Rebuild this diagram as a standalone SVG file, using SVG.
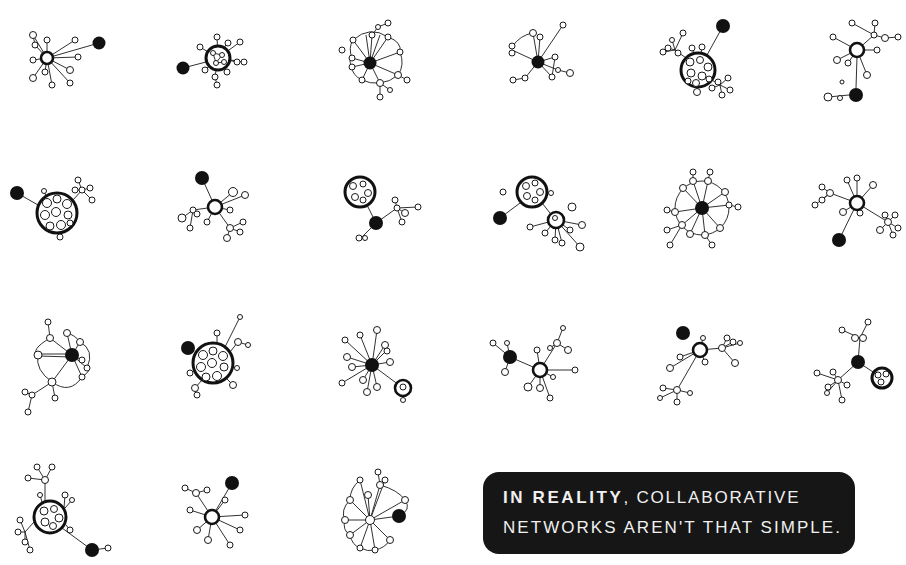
<svg xmlns="http://www.w3.org/2000/svg" width="906" height="565" viewBox="0 0 906 565">
<style>
.e{fill:none;stroke:#1a1a1a;stroke-width:0.9}
.s{fill:#fff;stroke:#1a1a1a;stroke-width:1}
.b{fill:#111}
.h{fill:#fff;stroke:#111;stroke-width:2.6}
.c{fill:#fff;stroke:#111;stroke-width:3}
.t{font-family:"Liberation Sans",Arial,sans-serif;font-size:17px;fill:#f0f0f0}
</style>
<rect width="906" height="565" fill="#fff"/>

<g id="g1">
<path class="e" d="M47 58L99 43M47 58L33 35M47 58L35 45M47 58L47 40M47 58L75 40M47 58L78 57M47 58L70 70M47 58L70 83M47 58L52 85M47 58L33 78M47 58L33 60M47 58L45 72M33 35L35 45"/>
<g class="s"><circle cx="33" cy="35" r="3.5"/><circle cx="35" cy="45" r="3"/><circle cx="47" cy="40" r="3"/><circle cx="75" cy="40" r="3"/><circle cx="78" cy="57" r="3"/><circle cx="70" cy="70" r="3.5"/><circle cx="70" cy="83" r="3"/><circle cx="52" cy="85" r="3"/><circle cx="33" cy="78" r="3.5"/><circle cx="33" cy="60" r="3"/><circle cx="45" cy="72" r="3"/></g>
<circle class="h" cx="47" cy="58" r="6"/><circle class="b" cx="99" cy="43" r="6.5"/>
</g>

<g id="g2">
<path class="e" d="M183 68L206 62M218 58L217 37M218 58L200 47M218 58L240 42M218 58L237 62M218 58L243 62M218 58L227 72M218 58L215 77M215 77L217 85M218 58L205 70M218 58L227 43"/>
<circle class="c" cx="218" cy="58" r="12"/>
<path class="e" d="M213 53L222 55L216 63L224 62M213 53L216 63"/>
<g class="s"><circle cx="213" cy="53" r="2.5"/><circle cx="222" cy="55" r="2.5"/><circle cx="216" cy="63" r="2.5"/><circle cx="224" cy="62" r="2.5"/><circle cx="217" cy="37" r="3"/><circle cx="200" cy="47" r="3"/><circle cx="240" cy="42" r="3"/><circle cx="237" cy="62" r="3"/><circle cx="244" cy="62" r="3"/><circle cx="227" cy="72" r="3"/><circle cx="215" cy="77" r="3"/><circle cx="217" cy="85" r="3"/><circle cx="205" cy="70" r="3"/><circle cx="228" cy="43" r="3"/></g>
<circle class="b" cx="183" cy="68" r="6.5"/>
</g>

<g id="g3">
<path class="e" d="M370 63L353 40M370 63L366 35M370 63L372 35M370 63L380 35M370 63L388 37M370 63L400 52M370 63L398 75M370 63L380 83M370 63L362 80M370 63L352 67M370 63L352 58M353 40Q370 25 388 37Q402 42 400 52Q405 65 398 75Q390 82 380 83Q370 84 362 80Q352 75 352 67Q348 60 352 58Q348 48 353 40M372 35L378 27L388 23M398 75L407 80M380 83L390 90M380 83L380 97"/>
<g class="s"><circle cx="353" cy="40" r="3"/><circle cx="372" cy="35" r="3"/><circle cx="388" cy="37" r="3"/><circle cx="400" cy="52" r="3"/><circle cx="398" cy="75" r="3.5"/><circle cx="380" cy="83" r="3.5"/><circle cx="362" cy="80" r="3"/><circle cx="352" cy="67" r="3"/><circle cx="352" cy="58" r="3"/><circle cx="378" cy="27" r="2.5"/><circle cx="388" cy="23" r="3"/><circle cx="342" cy="50" r="3"/><circle cx="407" cy="80" r="3"/><circle cx="390" cy="90" r="2.5"/><circle cx="380" cy="97" r="3"/></g>
<circle class="b" cx="370" cy="63" r="6.5"/>
</g>

<g id="g4">
<path class="e" d="M538 62L533 33M538 62L540 37M538 62L563 25M538 62L555 57M538 62L552 77M538 62L525 78M538 62L512 50M538 62L558 70M512 47Q520 35 533 33M525 78L513 80M558 70L570 73M555 57L552 77"/>
<g class="s"><circle cx="533" cy="33" r="3.5"/><circle cx="540" cy="37" r="3"/><circle cx="512" cy="46" r="3"/><circle cx="512" cy="53" r="3"/><circle cx="563" cy="25" r="3"/><circle cx="555" cy="57" r="3"/><circle cx="552" cy="77" r="3"/><circle cx="570" cy="73" r="3.5"/><circle cx="525" cy="78" r="3"/><circle cx="513" cy="80" r="3"/><circle cx="558" cy="70" r="2.5"/></g>
<circle class="b" cx="538" cy="62" r="6.5"/>
</g>

<g id="g5">
<path class="e" d="M723 26L707 55M686 58L675 50M675 50L668 48M675 50L672 40M675 50L683 33M675 50L663 52M675 50L678 53M712 80L720 85M720 85L718 82M720 85L728 78M720 85L730 90M720 85L722 95M720 85L712 88M692 48L694 54M702 47L701 53M697 91L697 87"/>
<circle class="c" cx="698" cy="70" r="17"/>
<g class="s"><circle cx="690" cy="62" r="4"/><circle cx="700" cy="60" r="3.5"/><circle cx="708" cy="67" r="4"/><circle cx="691" cy="73" r="4"/><circle cx="702" cy="76" r="4"/><circle cx="696" cy="83" r="3.5"/><circle cx="709" cy="79" r="3"/><circle cx="688" cy="81" r="3"/><circle cx="668" cy="48" r="3"/><circle cx="672" cy="40" r="2.5"/><circle cx="683" cy="33" r="3"/><circle cx="663" cy="52" r="3"/><circle cx="678" cy="53" r="3"/><circle cx="718" cy="82" r="3"/><circle cx="728" cy="78" r="3"/><circle cx="730" cy="90" r="3"/><circle cx="722" cy="95" r="3"/><circle cx="712" cy="88" r="3"/><circle cx="692" cy="48" r="3"/><circle cx="702" cy="47" r="3"/><circle cx="697" cy="92" r="3.5"/></g>
<circle class="b" cx="723" cy="26" r="7"/>
</g>

<g id="g6">
<path class="e" d="M857 57L856 88M857 50L874 35M857 50L833 37M857 50L837 60M857 50L848 63M857 50L877 50M857 50L867 75M874 35L852 23M874 35L875 23M874 35L885 38M885 38L898 37M828 97L849 95"/>
<g class="s"><circle cx="852" cy="23" r="3"/><circle cx="875" cy="23" r="3"/><circle cx="874" cy="35" r="3"/><circle cx="885" cy="38" r="3.5"/><circle cx="898" cy="37" r="3"/><circle cx="833" cy="37" r="3"/><circle cx="837" cy="60" r="3.5"/><circle cx="848" cy="63" r="3"/><circle cx="877" cy="50" r="3"/><circle cx="867" cy="75" r="3.5"/><circle cx="842" cy="82" r="2"/><circle cx="828" cy="97" r="4"/><circle cx="840" cy="98" r="2.5"/></g>
<circle class="h" cx="857" cy="50" r="7"/><circle class="b" cx="856" cy="95" r="7"/>
</g>

<g id="g7">
<path class="e" d="M17 193L38 205M73 200L82 190M82 190L78 180M82 190L90 188M82 190L92 200M82 190L75 190M44 191L46 196M60 237L59 233"/>
<circle class="c" cx="57" cy="213" r="20"/>
<g class="s"><circle cx="47" cy="203" r="4.5"/><circle cx="57" cy="199" r="4"/><circle cx="67" cy="204" r="4.5"/><circle cx="45" cy="215" r="4.5"/><circle cx="56" cy="212" r="4.5"/><circle cx="68" cy="215" r="4"/><circle cx="50" cy="226" r="4"/><circle cx="61" cy="225" r="4.5"/><circle cx="70" cy="223" r="3"/><circle cx="78" cy="180" r="3"/><circle cx="82" cy="190" r="3"/><circle cx="90" cy="188" r="3"/><circle cx="92" cy="200" r="3"/><circle cx="75" cy="190" r="3"/><circle cx="44" cy="191" r="2.5"/><circle cx="60" cy="237" r="3"/></g>
<circle class="b" cx="17" cy="193" r="7"/>
</g>

<g id="g8">
<path class="e" d="M215 207L202 178M215 207L233 192M215 207L245 195M215 207L193 210M215 207L207 222M215 207L230 228M215 207L230 210M193 210L182 218M193 210L190 228M230 228L227 238M230 228L240 232M230 228L243 222"/>
<g class="s"><circle cx="233" cy="192" r="4.5"/><circle cx="245" cy="195" r="3.5"/><circle cx="230" cy="210" r="3"/><circle cx="193" cy="210" r="3"/><circle cx="182" cy="218" r="4"/><circle cx="190" cy="228" r="3"/><circle cx="207" cy="222" r="3"/><circle cx="230" cy="228" r="3.5"/><circle cx="227" cy="238" r="3.5"/><circle cx="240" cy="232" r="3"/><circle cx="243" cy="222" r="3"/><circle cx="197" cy="214" r="3"/></g>
<circle class="h" cx="215" cy="207" r="7"/><circle class="b" cx="202" cy="178" r="7"/>
</g>

<g id="g9">
<path class="e" d="M367 205L376 223M376 223L397 208M397 208L395 200M397 208L405 213M397 208L402 222M397 208L418 207M376 223L362 237"/>
<circle class="c" cx="360" cy="192" r="15"/>
<g class="s"><circle cx="353" cy="186" r="3.5"/><circle cx="363" cy="184" r="3"/><circle cx="368" cy="193" r="3.5"/><circle cx="355" cy="197" r="3.5"/><circle cx="363" cy="200" r="3"/><circle cx="395" cy="200" r="3"/><circle cx="397" cy="208" r="3"/><circle cx="405" cy="213" r="3.5"/><circle cx="418" cy="207" r="3"/><circle cx="402" cy="222" r="3"/><circle cx="359" cy="238" r="3"/><circle cx="365" cy="238" r="2.5"/></g>
<circle class="b" cx="376" cy="223" r="7"/>
</g>

<g id="g10">
<path class="e" d="M500 218L520 203M542 203L550 213M556 220L530 227M556 220L545 233M556 220L555 240M556 220L562 243M556 220L570 230M556 220L582 225M556 220L580 247"/>
<circle class="c" cx="532" cy="192" r="15"/>
<circle class="h" cx="556" cy="220" r="8"/>
<g class="s"><circle cx="526" cy="186" r="3.5"/><circle cx="535" cy="183" r="3"/><circle cx="540" cy="192" r="3.5"/><circle cx="527" cy="196" r="3.5"/><circle cx="535" cy="200" r="3"/><circle cx="555" cy="218" r="2.5"/><circle cx="503" cy="192" r="3"/><circle cx="551" cy="193" r="2.5"/><circle cx="572" cy="207" r="4"/><circle cx="530" cy="227" r="3"/><circle cx="545" cy="233" r="3"/><circle cx="555" cy="240" r="3"/><circle cx="562" cy="243" r="3"/><circle cx="570" cy="230" r="3"/><circle cx="582" cy="225" r="3.5"/><circle cx="580" cy="247" r="4"/></g>
<circle class="b" cx="500" cy="218" r="7"/>
</g>

<g id="g11">
<circle class="e" cx="702" cy="208" r="27"/>
<path class="e" d="M702 208L693 181M702 208L708 181M702 208L683 188M702 208L725 192M702 208L729 205M702 208L675 212M702 208L682 225M702 208L690 234M702 208L705 235M702 208L720 228M693 181L693 172M708 181L710 172M675 212L667 210M682 225L667 230M682 225L670 245M705 235L712 245M729 205L738 207"/>
<g class="s"><circle cx="693" cy="181" r="3.5"/><circle cx="708" cy="181" r="3.5"/><circle cx="693" cy="172" r="3"/><circle cx="710" cy="172" r="3"/><circle cx="683" cy="188" r="3.5"/><circle cx="725" cy="192" r="3.5"/><circle cx="729" cy="205" r="3"/><circle cx="738" cy="207" r="3"/><circle cx="675" cy="212" r="3.5"/><circle cx="667" cy="210" r="3"/><circle cx="682" cy="225" r="3.5"/><circle cx="667" cy="230" r="3"/><circle cx="670" cy="245" r="3"/><circle cx="690" cy="234" r="3.5"/><circle cx="705" cy="235" r="3.5"/><circle cx="712" cy="245" r="3"/><circle cx="720" cy="228" r="3.5"/></g>
<circle class="b" cx="702" cy="208" r="7"/>
</g>

<g id="g12">
<path class="e" d="M857 203L839 240M857 203L847 180M857 203L857 178M857 203L873 185M857 203L830 193M830 193L822 200M830 193L815 205M830 193L822 187M857 203L843 212M857 203L860 213M857 203L888 222M888 222L895 215M888 222L880 230M888 222L893 235M888 222L898 228M888 222L885 215"/>
<g class="s"><circle cx="847" cy="180" r="3"/><circle cx="857" cy="178" r="3"/><circle cx="873" cy="185" r="3.5"/><circle cx="830" cy="193" r="3.5"/><circle cx="822" cy="200" r="3"/><circle cx="815" cy="205" r="3"/><circle cx="822" cy="187" r="3"/><circle cx="843" cy="212" r="3.5"/><circle cx="860" cy="213" r="3"/><circle cx="888" cy="222" r="3.5"/><circle cx="895" cy="215" r="3"/><circle cx="880" cy="230" r="3.5"/><circle cx="893" cy="235" r="3"/><circle cx="898" cy="228" r="3"/><circle cx="885" cy="215" r="3"/></g>
<circle class="h" cx="857" cy="203" r="7"/><circle class="b" cx="839" cy="240" r="7"/>
</g>

<g id="g13">
<path class="e" d="M72 355L50 338M72 355L67 333M72 355L80 342M72 354L38 354M72 357L38 356M72 355L82 360M72 355L87 368M72 355L82 377M72 355L52 382M48 322L50 338M50 338Q30 350 38 355Q35 370 52 382Q70 395 82 377Q92 370 87 368Q95 350 80 342Q75 335 67 333M52 382L32 395L25 392M32 395L28 412M52 382L55 398"/>
<g class="s"><circle cx="48" cy="322" r="3"/><circle cx="50" cy="338" r="3.5"/><circle cx="67" cy="333" r="3.5"/><circle cx="80" cy="342" r="3.5"/><circle cx="38" cy="355" r="4"/><circle cx="82" cy="360" r="3"/><circle cx="87" cy="368" r="3"/><circle cx="82" cy="377" r="3"/><circle cx="52" cy="382" r="4"/><circle cx="32" cy="395" r="3"/><circle cx="25" cy="392" r="3"/><circle cx="28" cy="412" r="3"/><circle cx="55" cy="398" r="3"/></g>
<circle class="b" cx="72" cy="355" r="7"/>
</g>

<g id="g14">
<path class="e" d="M225 347L240 317M217 343L217 333M230 352L238 342L248 345M195 370L190 373M202 380L195 388L197 395M226 378L233 385M232 367L237 368"/>
<circle class="c" cx="213" cy="363" r="20"/>
<g class="s"><circle cx="203" cy="355" r="4.5"/><circle cx="213" cy="351" r="4"/><circle cx="223" cy="356" r="4.5"/><circle cx="201" cy="367" r="4.5"/><circle cx="212" cy="363" r="4.5"/><circle cx="224" cy="367" r="4"/><circle cx="206" cy="377" r="4"/><circle cx="217" cy="376" r="4.5"/><circle cx="240" cy="317" r="2.5"/><circle cx="217" cy="333" r="3"/><circle cx="238" cy="342" r="3.5"/><circle cx="248" cy="345" r="2.5"/><circle cx="190" cy="373" r="3"/><circle cx="195" cy="388" r="3.5"/><circle cx="197" cy="395" r="3"/><circle cx="233" cy="385" r="3.5"/><circle cx="237" cy="368" r="2.5"/></g>
<circle class="b" cx="188" cy="348" r="7"/>
</g>

<g id="g15">
<path class="e" d="M372 365L403 388M372 365L377 330M372 365L360 335M372 365L345 340M372 365L385 345M372 365L387 350M372 365L390 362M372 365L347 357M372 365L352 367M372 365L363 380M372 365L377 387M372 365L367 392M372 365L342 383M403 396L403 400"/>
<circle class="h" cx="403" cy="388" r="8"/>
<g class="s"><circle cx="403" cy="387" r="3"/><circle cx="377" cy="330" r="3.5"/><circle cx="360" cy="335" r="3"/><circle cx="345" cy="340" r="3"/><circle cx="385" cy="345" r="3.5"/><circle cx="387" cy="351" r="3"/><circle cx="390" cy="362" r="3.5"/><circle cx="347" cy="357" r="3.5"/><circle cx="352" cy="367" r="3.5"/><circle cx="363" cy="380" r="3.5"/><circle cx="377" cy="387" r="3.5"/><circle cx="367" cy="392" r="3.5"/><circle cx="342" cy="383" r="3"/><circle cx="403" cy="400" r="2.5"/></g>
<circle class="b" cx="372" cy="365" r="7"/>
</g>

<g id="g16">
<path class="e" d="M510 357L540 370M510 357L493 343M510 357L505 372M510 357L507 343M540 370L537 350M540 370L528 387M540 370L540 388M540 370L550 398M540 370L575 370M540 370L557 343M540 370L553 377M557 343L563 328M557 343L568 350M557 343L550 348"/>
<g class="s"><circle cx="493" cy="343" r="3"/><circle cx="505" cy="372" r="3.5"/><circle cx="507" cy="343" r="2.5"/><circle cx="537" cy="350" r="3"/><circle cx="528" cy="387" r="4"/><circle cx="540" cy="388" r="3.5"/><circle cx="550" cy="398" r="3"/><circle cx="553" cy="377" r="2.5"/><circle cx="575" cy="370" r="3"/><circle cx="557" cy="343" r="3.5"/><circle cx="563" cy="328" r="2.5"/><circle cx="568" cy="350" r="3.5"/><circle cx="550" cy="348" r="2.5"/></g>
<circle class="h" cx="540" cy="370" r="7"/><circle class="b" cx="510" cy="357" r="7"/>
</g>

<g id="g17">
<path class="e" d="M700 350L722 348M722 348L727 338M722 348L733 342M722 348L740 343M722 348L735 363M700 350L703 338M700 350L705 362M700 350L680 357M700 350L670 368M700 350L677 390M677 390L663 388M677 390L660 398M677 390L677 402M677 390L690 393"/>
<g class="s"><circle cx="722" cy="348" r="3.5"/><circle cx="727" cy="338" r="3"/><circle cx="733" cy="342" r="3"/><circle cx="740" cy="343" r="2.5"/><circle cx="735" cy="363" r="3.5"/><circle cx="703" cy="338" r="2.5"/><circle cx="705" cy="362" r="3"/><circle cx="680" cy="357" r="3"/><circle cx="670" cy="368" r="3.5"/><circle cx="677" cy="390" r="3.5"/><circle cx="663" cy="388" r="3"/><circle cx="660" cy="398" r="2.5"/><circle cx="677" cy="402" r="3"/><circle cx="690" cy="393" r="2.5"/></g>
<circle class="h" cx="700" cy="350" r="7"/><circle class="b" cx="683" cy="333" r="7"/>
</g>

<g id="g18">
<path class="e" d="M858 362L882 378M858 362L860 338M860 338L868 322M860 338L842 330M860 338L855 338M860 338L863 338M858 362L838 380M838 380L817 373M838 380L833 372M838 380L847 385M838 380L828 387M838 380L827 393M838 380L842 400"/>
<circle class="c" cx="882" cy="378" r="10"/>
<g class="s"><circle cx="878" cy="375" r="3"/><circle cx="886" cy="374" r="3"/><circle cx="881" cy="382" r="3"/><circle cx="868" cy="322" r="3"/><circle cx="842" cy="330" r="3"/><circle cx="855" cy="338" r="3.5"/><circle cx="863" cy="338" r="3.5"/><circle cx="817" cy="373" r="3"/><circle cx="833" cy="372" r="3"/><circle cx="838" cy="380" r="3.5"/><circle cx="847" cy="385" r="3"/><circle cx="828" cy="387" r="3"/><circle cx="827" cy="393" r="2.5"/><circle cx="842" cy="400" r="3"/></g>
<circle class="b" cx="858" cy="362" r="7"/>
</g>

<g id="g19">
<path class="e" d="M62 528L92 550L108 548M45 480L37 467M45 480L52 467M45 480L28 478M45 480L45 501M40 495L42 502M34 522L25 532M25 532L20 520M25 532L18 532M25 532L25 542M25 532L30 550M64 508L65 495M65 508L72 500M66 525L70 530"/>
<circle class="c" cx="50" cy="517" r="16"/>
<g class="s"><circle cx="44" cy="511" r="4"/><circle cx="54" cy="509" r="3.5"/><circle cx="59" cy="518" r="4"/><circle cx="45" cy="522" r="4"/><circle cx="53" cy="526" r="3.5"/><circle cx="37" cy="467" r="3"/><circle cx="52" cy="467" r="3"/><circle cx="45" cy="480" r="3.5"/><circle cx="28" cy="478" r="3"/><circle cx="40" cy="495" r="2.5"/><circle cx="20" cy="520" r="3"/><circle cx="18" cy="532" r="3"/><circle cx="25" cy="542" r="3"/><circle cx="30" cy="550" r="3"/><circle cx="65" cy="495" r="3"/><circle cx="72" cy="500" r="2.5"/><circle cx="70" cy="530" r="3"/><circle cx="108" cy="548" r="3"/></g>
<circle class="b" cx="92" cy="550" r="7"/>
</g>

<g id="g20">
<path class="e" d="M212 517L232 483M212 517L196 493M196 493L185 488M196 493L207 490M212 517L190 510M212 517L197 530M212 517L208 540M212 517L230 545M212 517L240 530M212 517L245 515M212 517L225 500"/>
<g class="s"><circle cx="185" cy="488" r="3"/><circle cx="196" cy="493" r="3.5"/><circle cx="207" cy="490" r="3"/><circle cx="190" cy="510" r="3"/><circle cx="197" cy="530" r="3.5"/><circle cx="208" cy="540" r="3.5"/><circle cx="230" cy="545" r="3"/><circle cx="240" cy="530" r="3"/><circle cx="245" cy="515" r="3"/><circle cx="225" cy="500" r="3"/></g>
<circle class="h" cx="212" cy="517" r="7"/><circle class="b" cx="232" cy="483" r="7"/>
</g>

<g id="g21">
<path class="e" d="M370 520L399 516M370 520L380 485M370 520L385 480M370 520L360 480M370 520L368 495M370 520L350 500M370 520L345 520M370 520L350 535M370 520L360 548M370 520L375 550M370 520L390 540M370 520L405 500M380 485L378 472M380 485Q398 490 405 500Q412 510 399 516M350 500Q340 510 345 520Q342 530 350 535Q352 545 360 548Q368 552 375 550Q385 548 390 540M360 480Q350 488 350 500"/>
<g class="s"><circle cx="378" cy="472" r="3"/><circle cx="380" cy="485" r="3.5"/><circle cx="385" cy="480" r="3"/><circle cx="360" cy="480" r="3"/><circle cx="368" cy="495" r="3.5"/><circle cx="350" cy="500" r="3.5"/><circle cx="345" cy="520" r="3.5"/><circle cx="350" cy="535" r="3.5"/><circle cx="360" cy="548" r="3"/><circle cx="375" cy="550" r="3"/><circle cx="390" cy="540" r="3.5"/><circle cx="405" cy="500" r="3.5"/><circle cx="370" cy="520" r="4.5"/></g>
<circle class="b" cx="399" cy="516" r="7"/>
</g>

<g id="caption">
<rect x="483" y="472" width="372" height="82" rx="16" fill="#161616"/>
<text class="t" x="503" y="503" style="letter-spacing:1.8px"><tspan font-weight="bold" style="letter-spacing:2.6px">IN REALITY</tspan>, COLLABORATIVE</text>
<text class="t" x="503" y="533" style="letter-spacing:2.05px">NETWORKS AREN'T THAT SIMPLE.</text>
</g>
</svg>
